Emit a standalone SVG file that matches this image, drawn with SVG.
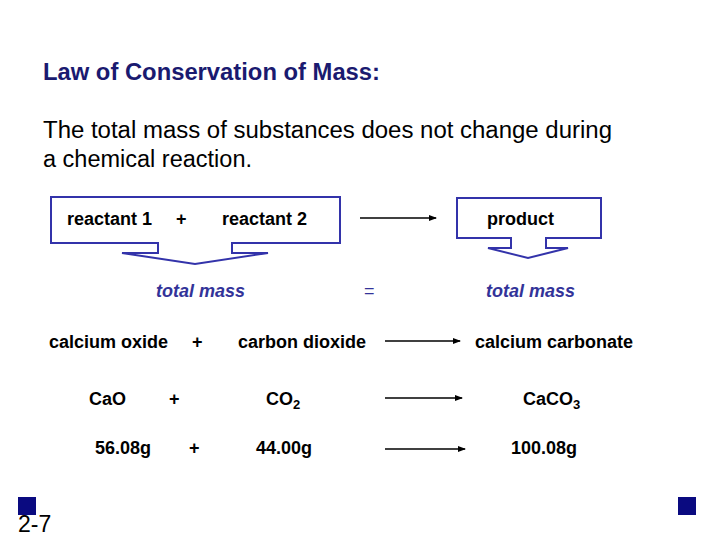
<svg xmlns="http://www.w3.org/2000/svg" width="720" height="540" viewBox="0 0 720 540">
<defs>
<style>
.t{font-family:"Liberation Sans",Arial,sans-serif;}
.b{font-family:"Liberation Sans",Arial,sans-serif;font-weight:bold;font-size:18px;fill:#000;}
.tm{font-family:"Liberation Sans",Arial,sans-serif;font-weight:bold;font-style:italic;font-size:18px;fill:#333399;}
.shape{fill:none;stroke:#3333aa;stroke-width:2;stroke-linejoin:miter;}
.arr{stroke:#000;stroke-width:1.5;fill:none;marker-end:url(#ah);}
.sq{fill:#0a0a80;}
</style>
<marker id="ah" markerWidth="8" markerHeight="6" refX="7" refY="3" orient="auto" markerUnits="userSpaceOnUse">
<path d="M0,0 L8,3 L0,6 Z" fill="#000"/>
</marker>
</defs>
<rect width="720" height="540" fill="#fff"/>
<g id="title">
<text class="t" x="43" y="80" font-size="23" font-weight="bold" fill="#1a1a70" textLength="337" lengthAdjust="spacingAndGlyphs">Law of Conservation of Mass:</text>
</g>
<g id="statement">
<text class="t" x="43" y="138" font-size="23.5" fill="#000" textLength="569" lengthAdjust="spacingAndGlyphs">The total mass of substances does not change during</text>
<text class="t" x="43" y="167" font-size="23.5" fill="#000">a chemical reaction.</text>
</g>
<g id="reactants-box">
<path class="shape" d="M51,197 H340 V243 H232 V253 H268 L195,264 L122,253 H158 V243 H51 Z"/>
<text class="b" x="67" y="225">reactant 1</text>
<text class="b" x="176" y="225">+</text>
<text class="b" x="222" y="225">reactant 2</text>
</g>
<g id="product-box">
<path class="shape" d="M457,198 H601 V238 H546 V248 H568 L528,258 L488,248 H511 V238 H457 Z"/>
<text class="b" x="487" y="225">product</text>
</g>
<g id="totals">
<text class="tm" x="156" y="297">total mass</text>
<text class="t" x="364" y="297" font-size="18" fill="#333399">=</text>
<text class="tm" x="486" y="297">total mass</text>
</g>
<g id="names">
<text class="b" x="49" y="348">calcium oxide</text>
<text class="b" x="192" y="348">+</text>
<text class="b" x="238" y="348">carbon dioxide</text>
<text class="b" x="475" y="348">calcium carbonate</text>
</g>
<g id="formulas">
<text class="b" x="89" y="405">CaO</text>
<text class="b" x="169" y="405">+</text>
<text class="b" x="266" y="405">CO<tspan font-size="13" dy="4">2</tspan></text>
<text class="b" x="523" y="405">CaCO<tspan font-size="13" dy="4">3</tspan></text>
</g>
<g id="masses">
<text class="b" x="95" y="454">56.08g</text>
<text class="b" x="189" y="454">+</text>
<text class="b" x="256" y="454">44.00g</text>
<text class="b" x="511" y="454">100.08g</text>
</g>
<g id="connectors">
<line class="arr" x1="360" y1="218" x2="436" y2="218"/>
<line class="arr" x1="385" y1="341" x2="460" y2="341"/>
<line class="arr" x1="385" y1="398" x2="462" y2="398"/>
<line class="arr" x1="385" y1="449" x2="465" y2="449"/>
</g>
<g id="footer">
<rect class="sq" x="18" y="497" width="18" height="18"/>
<rect class="sq" x="678" y="497" width="18" height="18"/>
<text class="t" x="18" y="532" font-size="23" fill="#000">2-7</text>
</g>
</svg>
